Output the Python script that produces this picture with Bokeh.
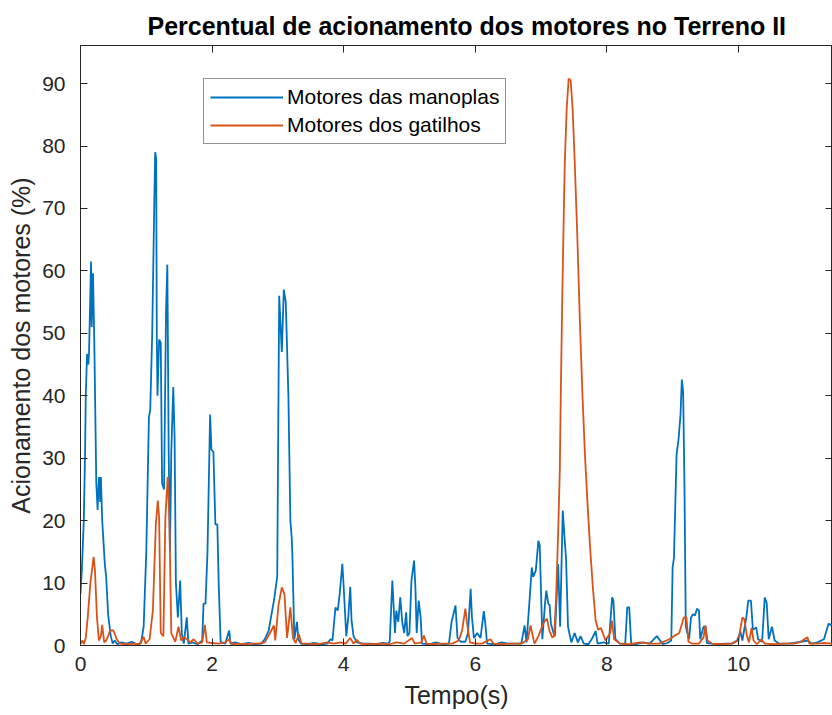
from bokeh.plotting import figure
from bokeh.models import LinearAxis, FixedTicker, Range1d, Legend, LegendItem, CustomJSTickFormatter
from bokeh.embed import file_html
from bokeh.resources import INLINE

# ---------------- data ----------------
title_text = "Percentual de acionamento dos motores no Terreno II"
x_label = "Tempo(s)"
y_label = "Acionamento dos motores (%)"
series_names = ["Motores das manoplas", "Motores dos gatilhos"]
x_ticks = [0, 2, 4, 6, 8, 10]
y_ticks = [0, 10, 20, 30, 40, 50, 60, 70, 80, 90]

t_manoplas = [
    0.00, 0.02, 0.05, 0.07, 0.08, 0.10, 0.12, 0.13, 0.16, 0.17, 0.19, 0.21, 0.24, 0.26, 0.28, 0.30,
    0.31, 0.33, 0.37, 0.39, 0.42, 0.46, 0.49, 0.52, 0.56, 0.62, 0.70, 0.78, 0.85, 0.92, 0.96, 1.00,
    1.04, 1.06, 1.09, 1.12, 1.135, 1.15, 1.16, 1.17, 1.195, 1.22, 1.24, 1.27, 1.30, 1.32, 1.34, 1.36,
    1.38, 1.41, 1.43, 1.45, 1.48, 1.515, 1.54, 1.57, 1.615, 1.64, 1.70, 1.78, 1.85, 1.87, 1.90, 1.93,
    1.97, 1.99, 2.02, 2.05, 2.08, 2.10, 2.13, 2.20, 2.26, 2.28, 2.35, 2.45, 2.55, 2.65, 2.75, 2.80,
    2.86, 2.94, 2.99, 3.02, 3.06, 3.09, 3.12, 3.16, 3.19, 3.21, 3.22, 3.25, 3.29, 3.31, 3.35, 3.45,
    3.55, 3.65, 3.75, 3.80, 3.83, 3.875, 3.91, 3.94, 3.98, 4.00, 4.04, 4.07, 4.10, 4.12, 4.15, 4.20,
    4.30, 4.40, 4.50, 4.60, 4.67, 4.70, 4.74, 4.78, 4.80, 4.83, 4.86, 4.89, 4.92, 4.95, 4.97, 5.00,
    5.03, 5.07, 5.09, 5.11, 5.14, 5.17, 5.19, 5.30, 5.40, 5.50, 5.60, 5.64, 5.70, 5.73, 5.78, 5.85,
    5.89, 5.93, 5.95, 5.98, 6.03, 6.08, 6.13, 6.15, 6.18, 6.30, 6.40, 6.50, 6.60, 6.70, 6.75, 6.78,
    6.86, 6.88, 6.92, 6.96, 6.98, 7.02, 7.06, 7.08, 7.11, 7.13, 7.15, 7.19, 7.21, 7.26, 7.29, 7.33,
    7.36, 7.38, 7.41, 7.46, 7.51, 7.56, 7.60, 7.65, 7.72, 7.78, 7.83, 7.86, 7.95, 8.03, 8.08, 8.10,
    8.13, 8.20, 8.28, 8.31, 8.34, 8.37, 8.45, 8.55, 8.65, 8.76, 8.85, 8.92, 8.98, 9.00, 9.02, 9.06,
    9.09, 9.12, 9.14, 9.16, 9.18, 9.20, 9.25, 9.28, 9.31, 9.34, 9.37, 9.40, 9.42, 9.47, 9.50, 9.52,
    9.60, 9.70, 9.80, 9.90, 9.98, 10.03, 10.06, 10.12, 10.15, 10.19, 10.22, 10.27, 10.30, 10.36, 10.40, 10.43,
    10.46, 10.51, 10.55, 10.62, 10.75, 10.85, 10.95, 11.05, 11.12, 11.20, 11.30, 11.37, 11.42,
]
v_manoplas = [
    8.3, 12, 20, 31, 40, 46.7, 45, 47, 61.5, 51, 59.6, 48.5, 26, 21.7, 27, 23,
    27, 20, 13, 11, 5, 1.5, 0.3, 0.8, 0.2, 0.5, 0.3, 0.6, 0.2, 0.4, 3, 15,
    36.6, 37.7, 50, 70, 79, 78, 49, 40, 49, 48.5, 26, 25, 53.6, 61, 31.4, 15,
    31, 41.4, 33.5, 10, 4.5, 10.4, 1.9, 0.3, 4.5, 0.3, 0.5, 0.2, 0.8, 6.7, 6.7, 15,
    37, 31.4, 31, 19.4, 19.4, 10, 0.6, 0.3, 2.4, 0.3, 0.5, 0.2, 0.4, 0.2, 0.3, 1,
    2.4, 7.2, 11, 56, 47, 57, 55, 40, 20, 17.3, 14.7, 1, 3.8, 1, 0.3, 0.2,
    0.4, 0.2, 0.3, 1, 0.8, 6.1, 5.6, 8.3, 13.1, 9.4, 1.5, 4.5, 9.4, 4, 1.5, 0.5,
    0.3, 0.3, 0.2, 0.4, 0.3, 0.6, 10.4, 2, 5.6, 3.8, 7.7, 3.8, 2, 5.3, 1.5, 2,
    10.4, 13.6, 9.4, 2, 7.2, 4.5, 0.3, 0.2, 0.5, 0.2, 0.3, 3.8, 6.4, 1.2, 0.6, 0.6,
    2, 9.1, 4.5, 1.2, 2, 1.2, 5.5, 3.8, 0.3, 0.2, 0.5, 0.3, 0.3, 0.3, 3.2, 0.5,
    12.5, 11, 12, 16.8, 16, 1, 6.7, 8.8, 6.7, 6.5, 3.5, 2, 1.5, 13, 3, 21.6,
    16.8, 14, 3, 0.5, 2, 0.5, 1.5, 0.3, 0.2, 1.2, 2.3, 0.3, 0.5, 0.3, 7.7, 7.2,
    1, 0.3, 0.3, 6.1, 6.1, 0.3, 0.2, 0.5, 0.3, 1.5, 0.2, 0.4, 0.8, 12.5, 14, 30.6,
    33, 37, 42.6, 40.6, 25.6, 3, 1, 4.5, 5, 4.8, 5.9, 5.6, 1, 3, 3, 0.4,
    0.3, 0.2, 0.3, 0.3, 0.8, 2.2, 0.8, 4.5, 7.2, 7.2, 2.5, 2.9, 1, 0.6, 7.7, 6.8,
    1, 3, 0.8, 0.3, 0.3, 0.4, 0.6, 0.8, 0.3, 0.5, 1, 3.5, 3.2,
]

t_gatilhos = [
    0.00, 0.03, 0.05, 0.08, 0.11, 0.15, 0.20, 0.22, 0.25, 0.28, 0.31, 0.33, 0.36, 0.39, 0.42, 0.45,
    0.50, 0.55, 0.60, 0.70, 0.80, 0.90, 0.96, 0.99, 1.05, 1.10, 1.145, 1.175, 1.195, 1.22, 1.26, 1.29,
    1.325, 1.35, 1.38, 1.44, 1.49, 1.53, 1.57, 1.62, 1.67, 1.72, 1.78, 1.85, 1.89, 1.92, 2.00, 2.10,
    2.20, 2.26, 2.30, 2.40, 2.50, 2.60, 2.70, 2.80, 2.86, 2.94, 2.96, 3.01, 3.06, 3.10, 3.14, 3.19,
    3.23, 3.27, 3.32, 3.36, 3.45, 3.55, 3.65, 3.75, 3.85, 3.95, 4.03, 4.10, 4.15, 4.20, 4.25, 4.40,
    4.55, 4.70, 4.80, 4.92, 5.04, 5.08, 5.18, 5.22, 5.26, 5.35, 5.50, 5.65, 5.75, 5.80, 5.85, 5.88,
    5.92, 6.00, 6.10, 6.23, 6.28, 6.40, 6.55, 6.70, 6.80, 6.84, 6.90, 6.96, 7.04, 7.09, 7.13, 7.17,
    7.20, 7.23, 7.26, 7.285, 7.30, 7.32, 7.34, 7.36, 7.39, 7.42, 7.45, 7.48, 7.51, 7.55, 7.59, 7.63,
    7.67, 7.71, 7.75, 7.79, 7.83, 7.87, 7.91, 7.98, 8.05, 8.08, 8.11, 8.20, 8.35, 8.50, 8.65, 8.80,
    8.95, 9.02, 9.10, 9.17, 9.21, 9.24, 9.30, 9.40, 9.47, 9.50, 9.53, 9.60, 9.75, 9.90, 10.00, 10.06,
    10.09, 10.13, 10.16, 10.20, 10.23, 10.28, 10.35, 10.40, 10.55, 10.70, 10.85, 10.95, 11.00, 11.05, 11.08, 11.20,
    11.30, 11.43,
]
v_gatilhos = [
    0.3, 0.8, 0.2, 1.2, 4.5, 10, 14.2, 12, 4.5, 0.8, 1.5, 3.3, 0.5, 0.8, 1.5, 2.4,
    2.4, 1, 0.3, 0.2, 0.3, 0.2, 1.4, 0.3, 1, 5.6, 19.4, 23.2, 20.5, 2, 1.5, 20.5,
    27, 20.5, 2, 0.6, 3, 0.8, 1.3, 1, 0.5, 1, 0.3, 0.5, 3.3, 0.5, 0.4, 0.3,
    0.5, 1, 0.2, 0.3, 0.2, 0.3, 0.3, 0.5, 1.6, 3.2, 0.8, 6.5, 9.3, 8.2, 1.2, 6.1,
    1.2, 0.4, 1.8, 0.3, 0.3, 0.2, 0.3, 0.5, 0.3, 0.5, 0.3, 1.2, 0.3, 0.9, 0.3, 0.2,
    0.3, 0.2, 0.5, 0.3, 1.2, 0.3, 0.5, 1.6, 0.3, 0.2, 0.3, 0.3, 0.8, 2.4, 5.9, 3.2,
    0.5, 0.3, 0.3, 1, 0.3, 0.2, 0.3, 0.3, 1, 3.2, 0.3, 1.5, 3.7, 4.3, 2.3, 1.3,
    1.5, 8, 18, 28, 40, 54, 66, 77, 86, 90.8, 90.5, 86, 78, 66, 52, 40,
    30, 22, 15, 9, 4, 2.5, 2.8, 0.8, 2, 4, 1, 0.3, 0.2, 0.5, 0.3, 0.3,
    1, 1.5, 2, 4.5, 4.5, 0.6, 0.3, 0.3, 1.3, 3.2, 0.8, 0.3, 0.2, 0.3, 0.8, 4.5,
    4.2, 1.5, 0.5, 2.8, 0.8, 0.2, 1, 0.3, 0.2, 0.3, 0.3, 0.6, 1, 1.3, 0.3, 0.3,
    0.4, 0.3,
]

# ---------------- figure ----------------
FONT = "Liberation Sans"
AX = "#262626"
BLUE = "#0072BD"
ORANGE = "#D95319"

p = figure(width=832, height=715, output_backend="svg", toolbar_location=None,
           x_range=Range1d(0, 11.43), y_range=Range1d(0, 96.1),
           min_border_left=80, min_border_right=0, min_border_top=45, min_border_bottom=70,
           background_fill_color="white", border_fill_color="white")

p.title.text = title_text
p.title.align = "left"
p.title.offset = 67
p.title.text_font = FONT
p.title.text_font_style = "bold"
p.title.text_font_size = "25px"
p.title.text_color = "#000000"
p.title.standoff = 11

p.xgrid.visible = False
p.ygrid.visible = False
p.outline_line_color = AX
p.outline_line_width = 1

def style_axis(ax, ticks, label=None, show_labels=True):
    ax.ticker = FixedTicker(ticks=ticks)
    ax.major_tick_in = 7
    ax.major_tick_out = 0
    ax.minor_tick_in = 0
    ax.minor_tick_out = 0
    ax.axis_line_color = AX
    ax.major_tick_line_color = AX
    ax.major_label_text_color = AX
    ax.major_label_text_font = FONT
    ax.major_label_text_font_size = "21px"
    if not show_labels:
        ax.formatter = CustomJSTickFormatter(code="return ''")
        ax.major_label_standoff = 0
        ax.major_label_text_font_size = "0px"
    if label is not None:
        ax.axis_label = label
        ax.axis_label_text_font = FONT
        ax.axis_label_text_font_size = "25px"
        ax.axis_label_text_font_style = "normal"
        ax.axis_label_text_color = AX

style_axis(p.xaxis[0], x_ticks, x_label)
p.xaxis[0].major_label_standoff = 11
p.xaxis[0].axis_label_standoff = 7
style_axis(p.yaxis[0], y_ticks, y_label)
p.yaxis[0].major_label_standoff = 15
p.yaxis[0].axis_label_standoff = 4

top = LinearAxis()
style_axis(top, x_ticks, show_labels=False)
p.add_layout(top, "above")
right = LinearAxis()
style_axis(right, y_ticks, show_labels=False)
p.add_layout(right, "right")

r1 = p.line(t_manoplas, v_manoplas, line_color=BLUE, line_width=1.8)
r2 = p.line(t_gatilhos, v_gatilhos, line_color=ORANGE, line_width=1.8)

legend = Legend(items=[LegendItem(label=series_names[0], renderers=[r1]),
                       LegendItem(label=series_names[1], renderers=[r2])],
                location=(123, 501))
legend.label_text_font = FONT
legend.label_text_font_size = "21px"
legend.label_text_color = "#000000"
legend.glyph_width = 73
legend.glyph_height = 24
legend.label_height = 24
legend.label_standoff = 4
legend.spacing = 4
legend.padding = 6
legend.margin = 0
legend.border_line_color = AX
legend.border_line_width = 1
legend.background_fill_alpha = 1
p.add_layout(legend, "center")

open("out.html", "w").write(file_html(p, INLINE))
